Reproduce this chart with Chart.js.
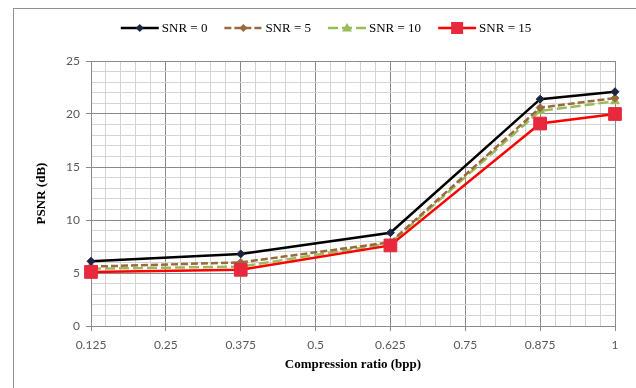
<!DOCTYPE html>
<html>
<head>
<meta charset="utf-8">
<script src="https://cdn.jsdelivr.net/npm/chart.js"></script>
<style>
  html, body { margin: 0; padding: 0; background: #fff; overflow: hidden; }
  #wrap { position: relative; width: 636px; height: 388px; }
  #frame { position: absolute; left: 13px; top: 8px; width: 700px; height: 500px; border: 1px solid #8f8f8f; }
  #grafico { position: absolute; left: 0; top: 0; }
</style>
</head>
<body>
<div id="wrap">
  <div id="frame"></div>
  <canvas id="grafico" width="636" height="388"></canvas>
</div>
<script>
/* dados */
const taxas = [0.125, 0.375, 0.625, 0.875, 1];
const snr0  = [6.1, 6.8, 8.8, 21.4, 22.1];
const snr5  = [5.6, 6.0, 7.9, 20.6, 21.5];
const snr10 = [5.4, 5.6, 7.8, 20.3, 21.2];
const snr15 = [5.1, 5.3, 7.6, 19.1, 20.0];
const rotulosX = ['0.125', '0.25', '0.375', '0.5', '0.625', '0.75', '0.875', '1'];
const rotulosY = ['0', '5', '10', '15', '20', '25'];

const pts = arr => arr.map((v, i) => ({ x: taxas[i], y: v }));
const ehMajorX = v => Math.abs(v * 8 - Math.round(v * 8)) < 1e-6;
const ehMajorY = v => Math.abs(v % 5) < 1e-6;

const series = [
  { label: 'SNR = 0',  data: snr0,  cor: '#000000', marcador: '#1b2440', forma: 'diamante', tracejado: [],     ordem: 2 },
  { label: 'SNR = 5',  data: snr5,  cor: '#9a6a3e', marcador: '#9a6a3e', forma: 'diamante', tracejado: [7, 3], ordem: 3 },
  { label: 'SNR = 10', data: snr10, cor: '#9bbb59', marcador: '#9bbb59', forma: 'triangulo', tracejado: [10, 4], ordem: 4 },
  { label: 'SNR = 15', data: snr15, cor: '#ff0000', marcador: '#e8283c', forma: 'quadrado', tracejado: [],     ordem: 1 }
];

const estiloPonto = { diamante: 'rectRot', triangulo: 'triangle', quadrado: 'rect' };
const raioPonto = { diamante: 4, triangulo: 5, quadrado: 9 };

function desenhaMarcador(ctx, forma, x, y, cor) {
  ctx.save();
  ctx.fillStyle = cor;
  ctx.beginPath();
  if (forma === 'diamante') {
    ctx.moveTo(x, y - 4); ctx.lineTo(x + 4, y); ctx.lineTo(x, y + 4); ctx.lineTo(x - 4, y);
  } else if (forma === 'triangulo') {
    ctx.moveTo(x, y - 5); ctx.lineTo(x + 5, y + 3.5); ctx.lineTo(x - 5, y + 3.5);
  } else {
    ctx.rect(x - 6, y - 6, 12, 12);
  }
  ctx.closePath();
  ctx.fill();
  ctx.restore();
}

// legenda desenhada à mão: linha + marcador + texto
const legendaPlugin = {
  id: 'legendaLinhas',
  afterDraw(chart) {
    const ctx = chart.ctx;
    ctx.save();
    ctx.font = '13px "Liberation Serif", "Times New Roman", serif';
    const linha = 38, gap = 3, entre = 17;
    const larguras = series.map(s => linha + gap + ctx.measureText(s.label).width);
    const total = larguras.reduce((a, b) => a + b, 0) + entre * (series.length - 1);
    let x = 326 - total / 2;
    const y = 28;
    series.forEach((s, i) => {
      ctx.strokeStyle = s.cor;
      ctx.lineWidth = 2.5;
      ctx.setLineDash(s.tracejado);
      ctx.beginPath();
      ctx.moveTo(x, y);
      ctx.lineTo(x + linha, y);
      ctx.stroke();
      ctx.setLineDash([]);
      desenhaMarcador(ctx, s.forma, x + linha / 2, y, s.marcador);
      ctx.fillStyle = '#000';
      ctx.textBaseline = 'middle';
      ctx.textAlign = 'left';
      ctx.fillText(s.label, x + linha + gap, y + 1);
      x += larguras[i] + entre;
    });
    ctx.restore();
  }
};

const fonteTick = { family: 'Lato, "Liberation Sans", sans-serif', size: 12 };
const fonteTitulo = { family: '"Liberation Serif", "Times New Roman", serif', size: 13, weight: 'bold' };

new Chart(document.getElementById('grafico'), {
  type: 'line',
  data: {
    datasets: series.map(s => ({
      label: s.label,
      data: pts(s.data),
      borderColor: s.cor,
      borderWidth: 2.5,
      borderDash: s.tracejado,
      backgroundColor: s.marcador,
      pointStyle: estiloPonto[s.forma],
      pointRadius: raioPonto[s.forma],
      pointBackgroundColor: s.marcador,
      pointBorderColor: s.marcador,
      pointBorderWidth: 1,
      tension: 0,
      fill: false,
      clip: false,
      order: s.ordem
    }))
  },
  options: {
    responsive: false,
    animation: false,
    devicePixelRatio: 1,
    layout: { padding: { left: 20, right: 21, top: 61, bottom: 10 } },
    plugins: {
      legend: { display: false },
      tooltip: { enabled: false }
    },
    scales: {
      x: {
        type: 'linear',
        min: 0.125,
        max: 1,
        afterBuildTicks(axis) {
          const t = [];
          for (let i = 0; i <= 35; i++) t.push({ value: Math.round((0.125 + i * 0.025) * 1000) / 1000 });
          axis.ticks = t;
        },
        afterFit(scale) { scale.height = 52; },
        ticks: {
          autoSkip: false,
          maxRotation: 0,
          color: '#595959',
          font: fonteTick,
          padding: 7,
          callback: v => ehMajorX(v) ? rotulosX[Math.round((v - 0.125) * 8)] : ''
        },
        grid: {
          color: c => ehMajorX(c.tick.value) ? '#8a8a8a' : '#d4d4d4',
          tickColor: c => ehMajorX(c.tick.value) ? '#8a8a8a' : 'rgba(0,0,0,0)',
          tickLength: 5,
          lineWidth: 1
        },
        border: { color: '#8a8a8a' },
        title: { display: true, text: 'Compression ratio (bpp)', color: '#000', font: fonteTitulo, padding: { top: 0, bottom: 6 } }
      },
      y: {
        min: 0,
        max: 25,
        afterBuildTicks(axis) {
          const t = [];
          for (let i = 0; i <= 25; i++) t.push({ value: i });
          axis.ticks = t;
        },
        afterFit(scale) { scale.width = 71; },
        ticks: {
          autoSkip: false,
          color: '#595959',
          font: fonteTick,
          padding: 6,
          callback: v => ehMajorY(v) ? rotulosY[v / 5] : ''
        },
        grid: {
          color: c => ehMajorY(c.tick.value) ? '#8a8a8a' : '#d4d4d4',
          tickColor: c => ehMajorY(c.tick.value) ? '#8a8a8a' : 'rgba(0,0,0,0)',
          tickLength: 5,
          lineWidth: 1
        },
        border: { color: '#8a8a8a' },
        title: { display: true, text: 'PSNR (dB)', color: '#000', font: fonteTitulo, padding: { top: 14, bottom: 0 } }
      }
    }
  },
  plugins: [legendaPlugin]
});
</script>
</body>
</html>
